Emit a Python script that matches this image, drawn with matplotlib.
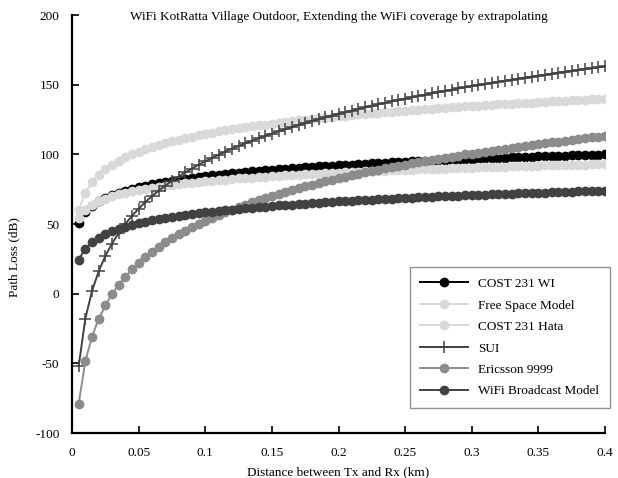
import matplotlib
matplotlib.use("Agg")
import matplotlib.pyplot as plt

plt.rcParams['font.family'] = ['Liberation Serif', 'DejaVu Serif']
plt.rcParams['axes.unicode_minus'] = False

distance_km = [round(0.005 * k, 3) for k in range(1, 81)]

cost231_wi = [50.5, 58.3, 62.9, 66.2, 68.7, 70.7, 72.5, 74.0, 75.3, 76.5,
              77.6, 78.6, 79.5, 80.3, 81.1, 81.8, 82.5, 83.1, 83.7, 84.3,
              84.9, 85.4, 85.9, 86.4, 86.8, 87.3, 87.7, 88.1, 88.5, 88.9,
              89.3, 89.6, 90.0, 90.3, 90.6, 91.0, 91.3, 91.6, 91.9, 92.2,
              92.4, 92.7, 93.0, 93.2, 93.5, 93.7, 94.0, 94.2, 94.4, 94.7,
              94.9, 95.1, 95.3, 95.5, 95.8, 96.0, 96.2, 96.3, 96.5, 96.7,
              96.9, 97.1, 97.3, 97.5, 97.6, 97.8, 98.0, 98.1, 98.3, 98.5,
              98.6, 98.8, 98.9, 99.1, 99.3, 99.4, 99.5, 99.7, 99.8, 100.0]

free_space = [54.0, 60.2, 63.8, 66.3, 68.3, 70.0, 71.3, 72.5, 73.6, 74.5,
              75.3, 76.1, 76.8, 77.5, 78.1, 78.7, 79.2, 79.7, 80.2, 80.7,
              81.1, 81.5, 81.9, 82.3, 82.7, 83.0, 83.3, 83.7, 84.0, 84.3,
              84.6, 84.9, 85.1, 85.4, 85.7, 85.9, 86.1, 86.4, 86.6, 86.8,
              87.1, 87.3, 87.5, 87.7, 87.9, 88.1, 88.3, 88.5, 88.6, 88.8,
              89.0, 89.2, 89.3, 89.5, 89.7, 89.8, 90.0, 90.1, 90.3, 90.5,
              90.6, 90.7, 90.9, 91.0, 91.2, 91.3, 91.4, 91.6, 91.7, 91.8,
              92.0, 92.1, 92.2, 92.3, 92.4, 92.6, 92.7, 92.8, 92.9, 93.0]

cost231_hata = [60.0, 72.6, 80.0, 85.3, 89.4, 92.7, 95.5, 97.9, 100.1, 102.0,
                103.7, 105.3, 106.8, 108.1, 109.4, 110.6, 111.7, 112.7, 113.7, 114.6,
                115.5, 116.4, 117.2, 118.0, 118.7, 119.4, 120.1, 120.8, 121.4, 122.0,
                122.6, 123.2, 123.8, 124.3, 124.9, 125.4, 125.9, 126.4, 126.8, 127.3,
                127.7, 128.2, 128.6, 129.0, 129.4, 129.8, 130.2, 130.6, 131.0, 131.4,
                131.7, 132.1, 132.4, 132.8, 133.1, 133.4, 133.7, 134.1, 134.4, 134.7,
                135.0, 135.3, 135.6, 135.9, 136.1, 136.4, 136.7, 137.0, 137.2, 137.5,
                137.8, 138.0, 138.3, 138.5, 138.8, 139.0, 139.2, 139.5, 139.7, 139.9]

sui = [-52.0, -18.0, 1.9, 16.0, 27.0, 35.9, 43.5, 50.1, 55.8, 61.0,
       65.7, 70.0, 73.9, 77.5, 80.9, 84.1, 87.0, 89.8, 92.5, 95.0,
       97.4, 99.7, 101.9, 104.0, 106.0, 107.9, 109.7, 111.5, 113.3, 114.9,
       116.5, 118.1, 119.6, 121.1, 122.5, 123.9, 125.2, 126.5, 127.8, 129.0,
       130.2, 131.4, 132.6, 133.7, 134.8, 135.9, 136.9, 138.0, 139.0, 140.0,
       141.0, 141.9, 142.8, 143.8, 144.7, 145.6, 146.4, 147.3, 148.1, 148.9,
       149.7, 150.5, 151.3, 152.1, 152.9, 153.6, 154.3, 155.1, 155.8, 156.5,
       157.2, 157.9, 158.6, 159.2, 159.9, 160.5, 161.2, 161.8, 162.4, 163.1]

ericsson_9999 = [-79.0, -48.6, -30.8, -18.2, -8.4, -0.4, 6.4, 12.2, 17.4, 22.0,
                 26.2, 30.0, 33.5, 36.8, 39.8, 42.6, 45.3, 47.8, 50.2, 52.4,
                 54.5, 56.6, 58.5, 60.4, 62.2, 63.9, 65.6, 67.2, 68.7, 70.2,
                 71.6, 73.0, 74.4, 75.7, 77.0, 78.2, 79.4, 80.6, 81.7, 82.8,
                 83.9, 84.9, 86.0, 87.0, 88.0, 88.9, 89.9, 90.8, 91.7, 92.6,
                 93.5, 94.3, 95.2, 96.0, 96.8, 97.6, 98.3, 99.1, 99.9, 100.6,
                 101.3, 102.0, 102.7, 103.4, 104.1, 104.8, 105.4, 106.1, 106.7, 107.4,
                 108.0, 108.6, 109.2, 109.8, 110.4, 111.0, 111.5, 112.1, 112.7, 113.2]

wifi_broadcast = [24.5, 32.3, 36.9, 40.2, 42.7, 44.7, 46.5, 48.0, 49.3, 50.5,
                  51.6, 52.6, 53.5, 54.3, 55.1, 55.8, 56.5, 57.1, 57.7, 58.3,
                  58.9, 59.4, 59.9, 60.4, 60.8, 61.3, 61.7, 62.1, 62.5, 62.9,
                  63.3, 63.6, 64.0, 64.3, 64.6, 65.0, 65.3, 65.6, 65.9, 66.2,
                  66.4, 66.7, 67.0, 67.2, 67.5, 67.7, 68.0, 68.2, 68.4, 68.7,
                  68.9, 69.1, 69.3, 69.5, 69.8, 70.0, 70.2, 70.3, 70.5, 70.7,
                  70.9, 71.1, 71.3, 71.5, 71.6, 71.8, 72.0, 72.1, 72.3, 72.5,
                  72.6, 72.8, 72.9, 73.1, 73.3, 73.4, 73.5, 73.7, 73.8, 74.0]

series_names = ["COST 231 WI", "Free Space Model", "COST 231 Hata", "SUI",
                "Ericsson 9999", "WiFi Broadcast Model"]
x_ticks = [0, 0.05, 0.1, 0.15, 0.2, 0.25, 0.3, 0.35, 0.4]
x_tick_labels = ["0", "0.05", "0.1", "0.15", "0.2", "0.25", "0.3", "0.35", "0.4"]
y_ticks = [-100, -50, 0, 50, 100, 150, 200]

fig = plt.figure(figsize=(6.18, 4.78), dpi=100)
ax = fig.add_axes([0.1165, 0.0941, 0.8625, 0.8745])

styles = [
    dict(color="#000000", marker="o", markersize=6),
    dict(color="#d9d9d9", marker="o", markersize=6),
    dict(color="#d9d9d9", marker="o", markersize=6),
    dict(color="#424242", marker="+", markersize=9, markeredgewidth=1.1),
    dict(color="#8c8c8c", marker="o", markersize=6),
    dict(color="#424242", marker="o", markersize=6),
]
data = [cost231_wi, free_space, cost231_hata, sui, ericsson_9999, wifi_broadcast]
for name, ys, st in zip(series_names, data, styles):
    ax.plot(distance_km, ys, label=name, linewidth=1.4, **st)

ax.set_xlim(0, 0.4)
ax.set_ylim(-100, 200)
ax.set_xticks(x_ticks)
ax.set_xticklabels(x_tick_labels)
ax.set_yticks(y_ticks)
for s in ["top", "right"]:
    ax.spines[s].set_visible(False)
for s in ["left", "bottom"]:
    ax.spines[s].set_linewidth(1.6)
ax.tick_params(direction="in", length=5, width=1.2, labelsize=9.5)
ax.tick_params(axis="x", pad=10)
ax.tick_params(axis="y", pad=9)

ax.set_xlabel("Distance between Tx and Rx (km)", fontsize=9.5, labelpad=5)
ax.set_ylabel("Path Loss (dB)", fontsize=9.5)
ax.yaxis.set_label_coords(-0.0976, 0.42)
ax.text(0.5, 0.995, "WiFi KotRatta Village Outdoor, Extending the WiFi coverage by extrapolating",
        transform=ax.transAxes, ha="center", va="center", fontsize=9.5)

leg = ax.legend(loc="lower right", bbox_to_anchor=(610 / 618, 1 - 408 / 478),
                bbox_transform=fig.transFigure, borderaxespad=0, fontsize=9.5,
                frameon=True, fancybox=False, handlelength=3.6, labelspacing=0.7,
                borderpad=0.8, handletextpad=0.8)
leg.get_frame().set_edgecolor("#777777")
leg.get_frame().set_linewidth(1.0)

fig.savefig("out.png", dpi=100)
